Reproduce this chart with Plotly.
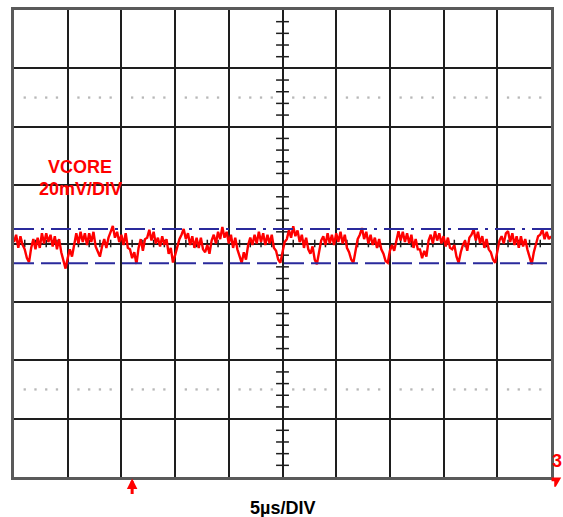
import numpy as np
import plotly.graph_objects as go

# ---- data -------------------------------------------------------------
time_step_us = 0.2           # sample step (µs)
vcore_mv = [
    # div 1
    0.5, 3.0, -1.5, 2.5, -0.5, -2.0, -5.0, -6.4, -1.5, 1.5, -2.0, 2.0, -1.5,
    3.5, 0.0, 3.5, 0.5, 3.0, -1.0, 2.5, -2.0, 1.5, -3.0, -6.0, -8.6,
    # div 2
    -5.0, -2.0, -4.5, 0.0, 3.5, 0.0, 4.0, 0.5, 3.5, -0.5, 3.5, 0.5, 4.0,
    -1.0, -3.0, -4.5, -1.0, 1.5, -1.5, 2.0, 4.0, 6.0, 2.0, 4.0, 0.5,
    # div 3
    3.0, -0.5, 3.5, -1.5, -2.0, -5.0, -3.0, -7.0, -1.5, 1.5, -2.5, 1.5, 2.0,
    4.7, 1.0, 4.0, 0.0, 2.0, -1.0, 2.5, -0.5, 1.5, -3.5, -1.5, -6.5,
    # div 4
    -4.0, -1.0, 1.5, 3.0, 5.0, 1.5, 3.5, -0.5, 2.5, -1.5, 2.0, -1.5, 2.0,
    -2.0, -3.0, -0.5, -3.5, 1.0, 3.0, 0.0, 4.0, 1.5, 5.7, 2.0, 4.0,
    # div 5
    0.0, 3.0, -1.5, 2.0, -2.0, -4.5, -6.6, -3.0, -5.5, -0.5, 2.0, -0.5, 3.0,
    0.0, 4.0, 0.5, 3.5, -0.5, 3.0, 0.0, 3.0, -1.5, -2.5, -5.5, -6.6,
    # div 6
    -3.0, 0.5, 1.5, 4.5, 2.0, 5.9, 2.5, 4.5, 0.5, 3.0, -1.5, 2.0, -2.0,
    -3.5, -1.0, -5.5, -7.1, -2.5, 1.0, 2.5, -0.5, 3.5, 0.0, 3.0, -0.5,
    # div 7
    3.5, 0.5, 4.0, 0.0, 3.0, -1.5, -3.0, -5.5, -6.6, -2.0, 1.5, 3.0, 5.3,
    1.5, 4.0, 0.0, 3.0, -0.5, 2.0, -1.5, 1.5, -2.0, -3.5, -6.0, -6.6,
    # div 8
    -2.5, -0.5, -2.5, 1.0, 4.2, 1.0, 4.0, 0.5, 3.5, 0.0, 3.0, -1.5, 1.5,
    -2.0, -2.0, -5.0, -2.5, -4.5, 1.0, 3.0, 0.0, 4.2, 1.0, 3.5, 0.0,
    # div 9
    2.5, -1.0, 2.0, -1.5, -2.0, -0.5, -4.5, -6.6, -3.0, -0.5, 1.0, -2.5, 2.0,
    3.0, 4.8, 1.0, 4.0, 0.0, 2.5, -1.5, 1.5, -2.0, -3.0, -5.5, -6.6,
    # div 10
    -2.5, 1.0, 2.5, 0.0, 3.5, 4.2, 0.5, 3.5, -0.5, 2.5, -1.5, 2.5, -1.0,
    1.5, -2.0, -5.0, -7.1, -3.0, -0.5, 2.5, 3.0, 4.8, 1.5, 4.0, 1.5, 2.5,
]
time_us = [i * time_step_us for i in range(len(vcore_mv))]

cursor_upper_mv = 5.0
cursor_lower_mv = -6.8
trigger_time_us = 11.0

channel_label = "VCORE"
volt_div_label = "20mV/DIV"
time_div_label = "5µs/DIV"
channel_number = "3"

# ---- scope geometry (divisions) ----------------------------------------
x_div, y_div = 5.0, 20.0
x_min, x_max = 0.0, 50.0
y_min, y_max = -80.0, 80.0
x_center, y_center = 25.0, 0.0

RED = "#ff0000"
BLUE = "#2a2a9c"
GRID = "#1e1e1e"
FONT = "Liberation Sans, Arial"

fig = go.Figure()

# dotted reference rows
dot_x = [v for v in np.arange(x_min + 1, x_max, 1.0) if abs(v % x_div) > 1e-6]
for row in (50.0, -50.0):
    fig.add_trace(go.Scatter(x=dot_x, y=[row] * len(dot_x), mode="markers",
                             marker=dict(color="#b8b8b8", size=2.3, symbol="square"),
                             hoverinfo="skip", showlegend=False))

fig.add_trace(go.Scatter(x=time_us, y=vcore_mv, mode="lines",
                         line=dict(color=RED, width=2.4),
                         showlegend=False, hoverinfo="skip"))

shapes = []
# cursors
shapes.append(dict(type="line", xref="x", yref="y", x0=x_min, x1=x_max,
                   y0=cursor_upper_mv, y1=cursor_upper_mv, layer="above",
                   line=dict(color=BLUE, width=2, dash="20px,7px,3px,7px")))
shapes.append(dict(type="line", xref="x", yref="y", x0=x_min, x1=x_max,
                   y0=cursor_lower_mv, y1=cursor_lower_mv, layer="above",
                   line=dict(color=BLUE, width=2, dash="20px,7px")))

# minor ticks on the centre cross
for v in np.arange(y_min, y_max + 0.01, y_div / 5):
    if abs(v % y_div) < 1e-6:
        continue
    shapes.append(dict(type="line", xref="x", yref="y", x0=x_center - 0.6,
                       x1=x_center + 0.6, y0=v, y1=v, layer="below",
                       line=dict(color=GRID, width=1.5)))
for v in np.arange(x_min, x_max + 0.01, x_div / 5):
    if abs(v % x_div) < 1e-6:
        continue
    shapes.append(dict(type="line", xref="x", yref="y", x0=v, x1=v,
                       y0=y_center - 1.3, y1=y_center + 1.3, layer="below",
                       line=dict(color=GRID, width=1.5)))

# channel ground marker (small flag at right)
shapes.append(dict(type="path", xref="paper", yref="paper",
                   path="M 1.001 -0.001 L 1.019 -0.001 L 1.009 -0.021 L 1.006 -0.021 "
                        "L 1.006 -0.009 L 1.001 -0.009 Z",
                   fillcolor=RED, line=dict(color=RED, width=0)))

annotations = [
    dict(x=0.123, y=0.663, xref="paper", yref="paper", text=f"<b>{channel_label}</b>",
         showarrow=False, font=dict(color=RED, size=18, family=FONT),
         xanchor="center", yanchor="middle"),
    dict(x=0.123, y=0.617, xref="paper", yref="paper", text=f"<b>{volt_div_label}</b>",
         showarrow=False, font=dict(color=RED, size=18, family=FONT),
         xanchor="center", yanchor="middle"),
    dict(x=0.5, y=-0.066, xref="paper", yref="paper", text=f"<b>{time_div_label}</b>",
         showarrow=False, font=dict(color="#000000", size=18, family=FONT),
         xanchor="center", yanchor="middle"),
    dict(x=1.0, y=0.035, xref="paper", yref="paper", text=f"<b>{channel_number}</b>",
         showarrow=False, font=dict(color=RED, size=18, family=FONT),
         xanchor="left", yanchor="middle", xshift=-1),
    dict(x=trigger_time_us, y=-0.003, xref="x", yref="paper", text="",
         showarrow=True, arrowhead=2, arrowsize=0.7, arrowwidth=3, arrowcolor=RED,
         ax=0, ay=17, standoff=0),
]

fig.update_layout(
    width=563, height=517,
    margin=dict(l=14, r=12, t=7, b=40),
    paper_bgcolor="white", plot_bgcolor="white",
    shapes=shapes, annotations=annotations,
    xaxis=dict(range=[x_min, x_max], dtick=x_div, tick0=0, showgrid=True,
               gridcolor=GRID, gridwidth=1.5, zeroline=False, showticklabels=False,
               ticks="", showline=True, mirror=True, linecolor="#5a5a5a", linewidth=2.5,
               fixedrange=True),
    yaxis=dict(range=[y_min, y_max], dtick=y_div, tick0=0, showgrid=True,
               gridcolor=GRID, gridwidth=1.5, zeroline=False, showticklabels=False,
               ticks="", showline=True, mirror=True, linecolor="#5a5a5a", linewidth=2.5,
               fixedrange=True),
)

fig.write_html(
    "out.html",
    config={"displayModeBar": False},
    post_script="document.body.style.margin='0';document.body.style.overflow='hidden';",
)
